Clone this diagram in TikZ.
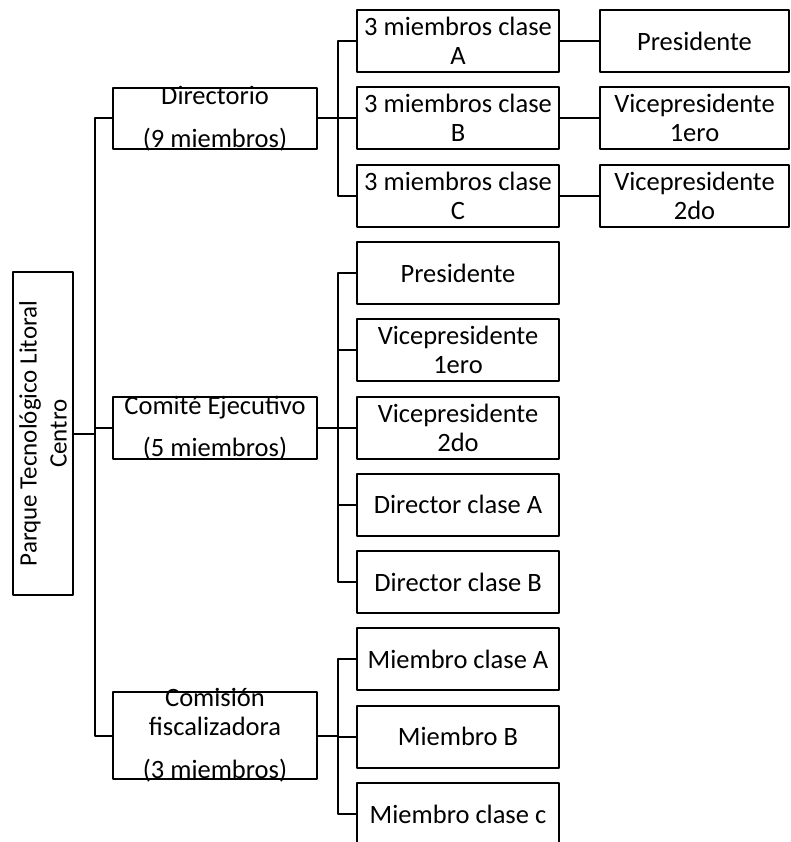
\documentclass[tikz,border=0pt]{standalone}
\usepackage{fontspec}
\setmainfont{Carlito}
\tikzset{
  orgbox/.style={draw,line width=2pt,inner sep=0pt,align=center,
    font=\fontsize{26.5}{29}\selectfont},
  toplvl/.style={orgbox,minimum width=204pt},
  midlvl/.style={orgbox,minimum width=202pt,minimum height=62pt},
  endlvl/.style={orgbox,minimum width=189pt,minimum height=62pt},
  boxtext/.style={align=center,font=\fontsize{26.5}{29}\selectfont},
  link/.style={line width=2pt}
}

\begin{document}
\begin{tikzpicture}[line cap=round,line join=round,x=1pt,y=-1pt]
  \useasboundingbox (0,0) rectangle (791,842);
  \clip (0,0) rectangle (791,842);
  % raiz
  \node[orgbox,minimum width=60pt,minimum height=323pt,
    label={[boxtext,rotate=90,font=\fontsize{25}{30}\selectfont]center:{Parque Tecnológico Litoral\\Centro}}]
    (root) at (43,433.5) {};
  % primer nivel
  \node[toplvl,minimum height=61pt,
    label={[boxtext]center:{Directorio\\[14pt](9 miembros)}}] (dir) at (215,118.5) {};
  \node[toplvl,minimum height=62pt,
    label={[boxtext]center:{Comité Ejecutivo\\[13pt](5 miembros)}}] (com) at (215,428) {};
  \node[toplvl,minimum height=87pt,
    label={[boxtext]center:{Comisión\\fiscalizadora\\[14pt](3 miembros)}}] (fis) at (215,735.5) {};
  % segundo nivel
  \node[midlvl] (dirA) at (458,41) {3 miembros clase\\A};
  \node[midlvl] (dirB) at (458,118.3) {3 miembros clase\\B};
  \node[midlvl] (dirC) at (458,195.6) {3 miembros clase\\C};
  \node[midlvl] (comP) at (458,272.9) {Presidente};
  \node[midlvl] (comV1) at (458,350.2) {Vicepresidente\\1ero};
  \node[midlvl] (comV2) at (458,427.5) {Vicepresidente\\2do};
  \node[midlvl] (comDA) at (458,504.8) {Director clase A};
  \node[midlvl] (comDB) at (458,582.1) {Director clase B};
  \node[midlvl] (fisA) at (458,659.4) {Miembro clase A};
  \node[midlvl] (fisB) at (458,736.7) {Miembro B};
  \node[midlvl] (fisC) at (458,814) {Miembro clase c};
  % tercer nivel
  \node[endlvl] (preA) at (694.5,41) {Presidente};
  \node[endlvl] (preB) at (694.5,118.3) {Vicepresidente\\1ero};
  \node[endlvl] (preC) at (694.5,195.6) {Vicepresidente\\2do};
  % conectores
  \foreach \b in {dir,com,fis}
    \draw[link] (root.east) -- ++(21,0) |- (\b.west);
  \foreach \b in {dirA,dirB,dirC}
    \draw[link] (dir.east) -- ++(20,0) |- (\b.west);
  \foreach \b in {comP,comV1,comV2,comDA,comDB}
    \draw[link] (com.east) -- ++(20,0) |- (\b.west);
  \foreach \b in {fisA,fisB,fisC}
    \draw[link] (fis.east) -- ++(20,0) |- (\b.west);
  \draw[link] (dirA) -- (preA);
  \draw[link] (dirB) -- (preB);
  \draw[link] (dirC) -- (preC);
\end{tikzpicture}
\end{document}
